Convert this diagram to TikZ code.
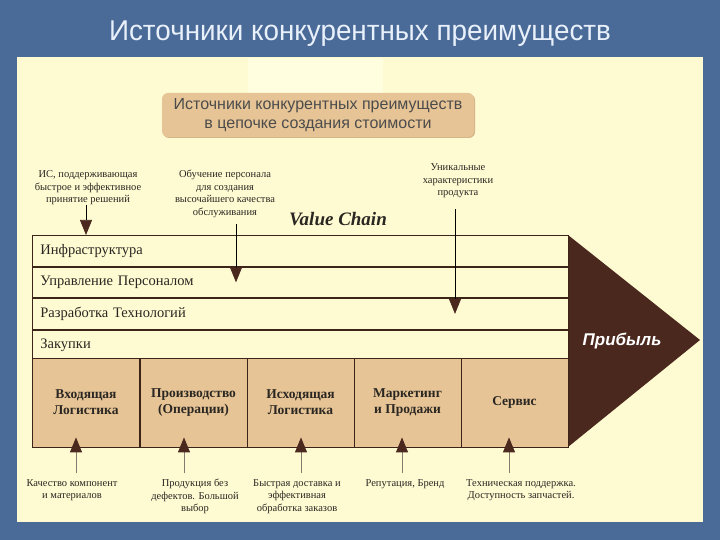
\documentclass[tikz,border=0pt]{standalone}
\usepackage{fontspec}
\setmainfont{Liberation Serif}
\newfontfamily\arialf{Liberation Sans}
\usetikzlibrary{arrows.meta,calc}
\definecolor{slide}{HTML}{4A6A98}
\definecolor{titletext}{HTML}{E8F0FA}
\definecolor{panel}{HTML}{FEFBD2}
\definecolor{glow}{HTML}{FFFFE0}
\definecolor{tan}{HTML}{E6C495}
\definecolor{tanshade}{HTML}{D8B489}
\definecolor{chev}{HTML}{4A281E}
\definecolor{edge}{HTML}{3C2418}
\definecolor{ink}{HTML}{2A2622}
\definecolor{shaft}{HTML}{857A70}
\tikzset{
  row/.style={draw=edge,fill=panel,line width=0.8pt,minimum height=30.75pt,
    text width=520pt,inner xsep=8pt,align=left,text=ink,
    font=\fontsize{14.5}{16}\selectfont,anchor=north west},
  prim/.style={draw=edge,fill=tan,line width=0.8pt,minimum height=89pt,
    minimum width=107pt,align=center,text=ink,
    font=\bfseries\fontsize{13.5}{16}\selectfont},
  note/.style={align=center,text=ink,inner sep=0pt,
    font=\fontsize{10.5}{12.5}\selectfont}
}
\begin{document}
\begin{tikzpicture}[x=1pt,y=-1pt,>={Triangle[width=12pt,length=15pt,color=chev]}]
\useasboundingbox (0,0) rectangle (720,540);
\fill[slide] (0,0) rectangle (720,540);
\node[text=titletext,font=\arialf\fontsize{26}{30}\selectfont,xscale=1.07,yscale=1.1] (title) at (360,34) {Источники конкурентных преимуществ};
\fill[panel] (17,57) rectangle (703,522);
\fill[glow] (248,58) rectangle (383,93);

\fill[tanshade,rounded corners=6pt] (163,94) rectangle (475,138);
\node[fill=tan,rounded corners=6pt,minimum width=312pt,minimum height=44pt,align=center,
  text=black!70,font=\arialf\fontsize{16}{18.5}\selectfont] (head) at (318,115)
  {Источники конкурентных преимуществ\\в цепочке создания стоимости};

\node[note] (n1) at (88,188) {ИС, поддерживающая\\быстрое и эффективное\\принятие решений};
\node[note] (n2) at (225,194) {Обучение персонала\\для создания\\высочайшего качества\\обслуживания};
\node[note] (n3) at (458,181) {Уникальные\\характеристики\\продукта};
\node[text=ink,font=\bfseries\itshape\fontsize{19}{20}\selectfont] (vc) at (338,219) {Value Chain};

\fill[chev] (568,235) -- (700,340) -- (568,447) -- cycle;
\node[text=white,font=\arialf\bfseries\itshape\fontsize{17}{20}\selectfont] (profit) at (622,341) {Прибыль};

\node[row] (infra) at (32,235) {Инфраструктура};
\node[row] (hr) at (infra.south west) {Управление Персоналом};
\node[row] (tech) at (hr.south west) {Разработка Технологий};
\node[row] (buy) at (tech.south west) {Закупки};

\foreach \x/\name/\txt in {86/p1/{Входящая\\Логистика},193.5/p2/{Производство\\(Операции)},
  300.5/p3/{Исходящая\\Логистика},407.5/p4/{Маркетинг\\и Продажи},514.5/p5/{Сервис}}
{
    \node[prim] (\name) at (\x,402.5) {\txt};
}

\coordinate (a1) at (86,205);
\coordinate (a2) at (236,224);
\coordinate (a3) at (455,209);
\draw[->,line width=0.7pt] (a1) -- (a1 |- infra.north);
\draw[->,line width=0.7pt] (a2) -- (a2 |- hr.center);
\draw[->,line width=0.7pt] (a3) -- (a3 |- tech.center);

\node[note,anchor=north] (m1) at (72,479) {Качество компонент\\и материалов};
\node[note,anchor=north] (m2) at (195,479) {Продукция без\\дефектов. Большой\\выбор};
\node[note,anchor=north] (m3) at (297,479) {Быстрая доставка и\\эффективная\\обработка заказов};
\node[note,anchor=north] (m4) at (405,479) {Репутация, Бренд};
\node[note,anchor=north] (m5) at (521,479) {Техническая поддержка.\\Доступность запчастей.};

\foreach \x/\i in {76/1,184/2,301/3,402/4,509/5}
{
    \coordinate (b\i) at (\x,473);
    \draw[->,draw=shaft,line width=1pt] (b\i) -- ($(b\i |- p\i.south)+(0,-10)$);
}
\end{tikzpicture}
\end{document}
